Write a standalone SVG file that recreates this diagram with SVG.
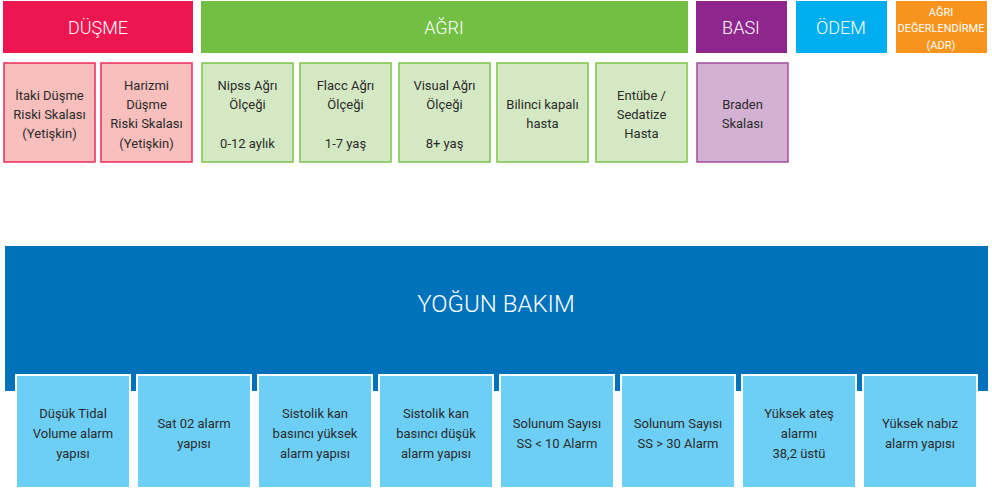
<svg xmlns="http://www.w3.org/2000/svg" width="992" height="492" viewBox="0 0 992 492">
  <style>
    text { font-family: Roboto, "Noto Sans", "DejaVu Sans", sans-serif; text-anchor: middle; }
    .hd { fill: #ffffff; font-size: 18px; font-weight: 300; }
    .hd-sm { fill: #ffffff; font-size: 11px; }
    .lbl { fill: #2b2b2b; font-size: 13px; }
    .band-title { fill: #ffffff; font-size: 24px; font-weight: 300; }
    .pink { fill: #f8bfbd; stroke: #ee2a5c; stroke-width: 1.5; }
    .green { fill: #d5e8c4; stroke: #7dc34a; stroke-width: 1.5; }
    .purple { fill: #d3b1d3; stroke: #a04ea0; stroke-width: 1.5; }
    .icu { fill: #6dcff6; stroke: #ffffff; stroke-width: 2; }
  </style>

  <!-- Category headers -->
  <g id="hdr-dusme">
    <rect x="3" y="1" width="190" height="52" fill="#ee1651"/>
    <text class="hd" x="98" y="34">DÜŞME</text>
  </g>
  <g id="hdr-agri">
    <rect x="201" y="1" width="487" height="52" fill="#72bf44"/>
    <text class="hd" x="444" y="34">AĞRI</text>
  </g>
  <g id="hdr-basi">
    <rect x="696" y="1" width="91" height="52" fill="#8e268d"/>
    <text class="hd" x="741" y="34">BASI</text>
  </g>
  <g id="hdr-odem">
    <rect x="796" y="1" width="91" height="52" fill="#00aeef"/>
    <text class="hd" x="841" y="34">ÖDEM</text>
  </g>
  <g id="hdr-adr">
    <rect x="896" y="1" width="91" height="52" fill="#f7941d"/>
    <text class="hd-sm" x="941" y="16">AĞRI</text>
    <text class="hd-sm" x="941" y="32">DEĞERLENDİRME</text>
    <text class="hd-sm" x="941" y="49">(ADR)</text>
  </g>

  <!-- Scales under each category -->
  <g id="itaki">
    <rect class="pink" x="4" y="63" width="91" height="99"/>
    <text class="lbl" x="49.5" y="100">İtaki Düşme</text>
    <text class="lbl" x="49.5" y="119">Riski Skalası</text>
    <text class="lbl" x="49.5" y="138">(Yetişkin)</text>
  </g>
  <g id="harizmi">
    <rect class="pink" x="101" y="63" width="91" height="99"/>
    <text class="lbl" x="146.5" y="90">Harizmi</text>
    <text class="lbl" x="146.5" y="109">Düşme</text>
    <text class="lbl" x="146.5" y="128">Riski Skalası</text>
    <text class="lbl" x="146.5" y="148">(Yetişkin)</text>
  </g>
  <g id="nipss">
    <rect class="green" x="202" y="63" width="91" height="99"/>
    <text class="lbl" x="247.5" y="90">Nipss Ağrı</text>
    <text class="lbl" x="247.5" y="109">Ölçeği</text>
    <text class="lbl" x="247.5" y="148">0-12 aylık</text>
  </g>
  <g id="flacc">
    <rect class="green" x="300" y="63" width="91" height="99"/>
    <text class="lbl" x="345.5" y="90">Flacc Ağrı</text>
    <text class="lbl" x="345.5" y="109">Ölçeği</text>
    <text class="lbl" x="345.5" y="148">1-7 yaş</text>
  </g>
  <g id="visual">
    <rect class="green" x="399" y="63" width="91" height="99"/>
    <text class="lbl" x="444.5" y="90">Visual Ağrı</text>
    <text class="lbl" x="444.5" y="109">Ölçeği</text>
    <text class="lbl" x="444.5" y="148">8+ yaş</text>
  </g>
  <g id="bilinci">
    <rect class="green" x="497" y="63" width="91" height="99"/>
    <text class="lbl" x="542.5" y="109">Bilinci kapalı</text>
    <text class="lbl" x="542.5" y="128">hasta</text>
  </g>
  <g id="entube">
    <rect class="green" x="596" y="63" width="91" height="99"/>
    <text class="lbl" x="641.5" y="100">Entübe /</text>
    <text class="lbl" x="641.5" y="119">Sedatize</text>
    <text class="lbl" x="641.5" y="138">Hasta</text>
  </g>
  <g id="braden">
    <rect class="purple" x="697" y="63" width="91" height="99"/>
    <text class="lbl" x="742.5" y="109">Braden</text>
    <text class="lbl" x="742.5" y="128">Skalası</text>
  </g>

  <!-- Intensive care band -->
  <g id="yogun-bakim">
    <rect x="5" y="246" width="983" height="145" fill="#0072bc"/>
    <text class="band-title" x="496" y="312">YOĞUN BAKIM</text>
  </g>

  <!-- Alarm items -->
  <g id="alarm-tidal">
    <rect class="icu" x="16" y="375" width="114" height="113"/>
    <text class="lbl" x="73" y="418">Düşük Tidal</text>
    <text class="lbl" x="73" y="438">Volume alarm</text>
    <text class="lbl" x="73" y="458">yapısı</text>
  </g>
  <g id="alarm-sat">
    <rect class="icu" x="137" y="375" width="114" height="113"/>
    <text class="lbl" x="194" y="428">Sat 02 alarm</text>
    <text class="lbl" x="194" y="448">yapısı</text>
  </g>
  <g id="alarm-sis-high">
    <rect class="icu" x="258" y="375" width="114" height="113"/>
    <text class="lbl" x="315" y="418">Sistolik kan</text>
    <text class="lbl" x="315" y="438">basıncı yüksek</text>
    <text class="lbl" x="315" y="458">alarm yapısı</text>
  </g>
  <g id="alarm-sis-low">
    <rect class="icu" x="379" y="375" width="114" height="113"/>
    <text class="lbl" x="436" y="418">Sistolik kan</text>
    <text class="lbl" x="436" y="438">basıncı düşük</text>
    <text class="lbl" x="436" y="458">alarm yapısı</text>
  </g>
  <g id="alarm-ss-low">
    <rect class="icu" x="500" y="375" width="114" height="113"/>
    <text class="lbl" x="557" y="428">Solunum Sayısı</text>
    <text class="lbl" x="557" y="448">SS &lt; 10 Alarm</text>
  </g>
  <g id="alarm-ss-high">
    <rect class="icu" x="621" y="375" width="114" height="113"/>
    <text class="lbl" x="678" y="428">Solunum Sayısı</text>
    <text class="lbl" x="678" y="448">SS &gt; 30 Alarm</text>
  </g>
  <g id="alarm-fever">
    <rect class="icu" x="742" y="375" width="114" height="113"/>
    <text class="lbl" x="799" y="418">Yüksek ateş</text>
    <text class="lbl" x="799" y="438">alarmı</text>
    <text class="lbl" x="799" y="458">38,2 üstü</text>
  </g>
  <g id="alarm-pulse">
    <rect class="icu" x="863" y="375" width="114" height="113"/>
    <text class="lbl" x="920" y="428">Yüksek nabız</text>
    <text class="lbl" x="920" y="448">alarm yapısı</text>
  </g>

  <g id="connectors"/>
</svg>
